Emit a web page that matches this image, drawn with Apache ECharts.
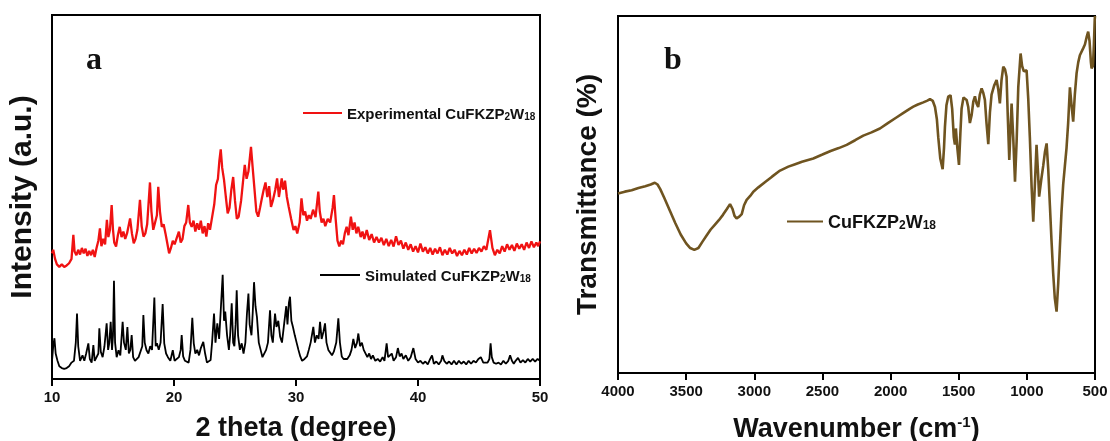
<!DOCTYPE html>
<html>
<head>
<meta charset="utf-8">
<script src="https://cdn.jsdelivr.net/npm/echarts@6/dist/echarts.min.js"></script>
<style>
  html, body { margin: 0; padding: 0; background: #fff; }
  #chart { width: 1110px; height: 441px; }
</style>
</head>
<body>
<div id="chart"></div>
<script>
// XRD, panel a: [2 theta, intensity (a.u., 0-100 plot units)]
const experimental = [
    [10.0, 34.5], [10.1, 35.5], [10.25, 33], [10.4, 31.5], [10.6, 30.8], [10.8, 31.5], [11.0, 30.8],
    [11.2, 31.2], [11.4, 31.8], [11.6, 33], [11.75, 39.6], [11.85, 35], [12.0, 34], [12.15, 35.5],
    [12.3, 34.2], [12.45, 36], [12.6, 34.5], [12.75, 35.8], [12.9, 33.8], [13.05, 35.2], [13.2, 34],
    [13.35, 35.5], [13.5, 33.5], [13.65, 36], [13.8, 38], [13.93, 41.4], [14.05, 36.5], [14.2, 38.5],
    [14.35, 37], [14.5, 43.7], [14.62, 39], [14.75, 41], [14.89, 47.8], [15.0, 41], [15.1, 37.5],
    [15.25, 36.4], [15.4, 39.5], [15.55, 41.8], [15.7, 39], [15.85, 40.5], [16.0, 38.5], [16.15, 40],
    [16.4, 44.1], [16.55, 40], [16.7, 37.3], [16.85, 38.5], [17.0, 41], [17.21, 49.2], [17.35, 42],
    [17.5, 39.1], [17.65, 40], [17.8, 42.5], [18.03, 54], [18.15, 46], [18.3, 41], [18.45, 43],
    [18.6, 45], [18.71, 52.8], [18.85, 46], [19.0, 41.8], [19.15, 42.5], [19.3, 40], [19.45, 37.3],
    [19.6, 34.5], [19.75, 36], [19.9, 38], [20.05, 37], [20.2, 38.5], [20.4, 40.5], [20.55, 37.5],
    [20.7, 38.5], [20.85, 42], [21.0, 43], [21.17, 47.8], [21.3, 43], [21.45, 41.8], [21.6, 43.5],
    [21.75, 40.5], [21.9, 42.8], [22.05, 41], [22.2, 43.5], [22.35, 40], [22.5, 42], [22.65, 39.1],
    [22.8, 42.8], [22.95, 41], [23.1, 44], [23.3, 48], [23.45, 53.3], [23.6, 55], [23.72, 60],
    [23.83, 63.1], [23.95, 58], [24.1, 54.7], [24.25, 50], [24.4, 45.5], [24.55, 47], [24.7, 52],
    [24.85, 55.5], [25.0, 49], [25.15, 44], [25.3, 44.6], [25.5, 49], [25.65, 54], [25.8, 58.8],
    [25.95, 55], [26.1, 57], [26.31, 63.8], [26.45, 58], [26.6, 52], [26.75, 46], [26.9, 44.6],
    [27.05, 47], [27.2, 49.6], [27.35, 52], [27.5, 54], [27.65, 50], [27.8, 53], [27.95, 47.3],
    [28.1, 49], [28.3, 52], [28.45, 55.1], [28.6, 50], [28.83, 55.1], [28.95, 52], [29.1, 54.5],
    [29.25, 50], [29.4, 47.3], [29.6, 44], [29.8, 40.9], [29.95, 42], [30.1, 40], [30.3, 43],
    [30.45, 49.6], [30.6, 45], [30.75, 46], [30.9, 43.5], [31.05, 45], [31.2, 44], [31.4, 46.5],
    [31.6, 44.5], [31.83, 51.5], [31.95, 46], [32.1, 43], [32.25, 44], [32.4, 42], [32.6, 44],
    [32.8, 43], [33.0, 47], [33.11, 50.5], [33.25, 44], [33.4, 38], [33.55, 36.4], [33.7, 38],
    [33.85, 37], [34.0, 40], [34.15, 41.8], [34.3, 39.5], [34.5, 44.6], [34.65, 41], [34.8, 43],
    [34.95, 40], [35.1, 41.8], [35.3, 39], [35.45, 40.5], [35.6, 38.5], [35.8, 40.9], [36.0, 38.2],
    [36.2, 39.8], [36.4, 37.5], [36.6, 39], [36.8, 37.5], [37.0, 38.8], [37.2, 36.8], [37.4, 38.5],
    [37.6, 36.5], [37.8, 38.2], [38.0, 36.4], [38.2, 39.2], [38.4, 36.8], [38.6, 38], [38.8, 35.8],
    [39.0, 37.5], [39.2, 35.5], [39.4, 37], [39.6, 35], [39.8, 36.5], [40.0, 34.8], [40.2, 37.2],
    [40.4, 35], [40.6, 36.2], [40.8, 34.5], [41.0, 36], [41.2, 34.2], [41.4, 35.8], [41.6, 34.5],
    [41.8, 36.2], [42.0, 34], [42.2, 35.5], [42.4, 34.2], [42.6, 36], [42.8, 34.5], [43.0, 35.5],
    [43.2, 33.8], [43.4, 35.2], [43.6, 34], [43.8, 35.5], [44.0, 34.2], [44.2, 36], [44.4, 34.5],
    [44.6, 35.8], [44.8, 34.6], [45.0, 36], [45.2, 35], [45.4, 36.5], [45.6, 35.5], [45.9, 40.9],
    [46.1, 36], [46.3, 34], [46.5, 35.5], [46.7, 34.5], [46.9, 36.5], [47.1, 35], [47.3, 37],
    [47.5, 35.5], [47.7, 36.8], [47.9, 35.2], [48.1, 37.2], [48.3, 35.8], [48.5, 37], [48.7, 35.5],
    [48.9, 37.5], [49.1, 36], [49.3, 37.8], [49.5, 36.2], [49.7, 37.5], [49.85, 36.5], [50.0, 37.8]
];

const simulated = [
    [10.0, 5], [10.1, 9], [10.2, 11.2], [10.3, 7], [10.45, 5], [10.6, 3.5], [10.8, 3], [11.0, 2.8],
    [11.2, 3], [11.4, 3.5], [11.6, 4.5], [11.8, 5], [11.95, 10], [12.05, 18], [12.15, 9], [12.3, 5],
    [12.5, 6.5], [12.65, 5], [12.8, 7], [12.98, 9.8], [13.1, 5.5], [13.25, 4.5], [13.39, 9.3],
    [13.5, 5], [13.65, 5.5], [13.8, 7], [13.88, 13.9], [14.0, 7.5], [14.15, 6], [14.3, 9],
    [14.48, 15.3], [14.6, 8], [14.7, 10], [14.81, 15.7], [14.92, 8], [15.0, 12], [15.08, 27],
    [15.17, 10], [15.3, 6], [15.45, 7.9], [15.6, 6.5], [15.79, 15.7], [15.9, 10], [16.05, 8],
    [16.18, 14.3], [16.3, 7], [16.42, 8], [16.53, 12.1], [16.65, 6], [16.8, 5], [16.95, 4.5],
    [17.1, 6], [17.25, 5.5], [17.4, 9], [17.49, 17.6], [17.6, 10], [17.75, 7.9], [17.9, 7],
    [18.05, 9], [18.2, 8], [18.39, 22.4], [18.5, 9], [18.6, 9.8], [18.75, 8], [18.9, 10],
    [19.07, 20.6], [19.2, 9.8], [19.35, 7], [19.5, 6], [19.7, 5], [19.9, 7.9], [20.05, 5],
    [20.2, 4.5], [20.4, 6], [20.55, 8], [20.63, 12.1], [20.75, 6.2], [20.9, 5], [21.05, 5.5],
    [21.2, 4.5], [21.35, 8], [21.5, 16.8], [21.62, 9.8], [21.75, 7], [21.9, 8], [22.05, 6.5],
    [22.2, 8.5], [22.4, 10.2], [22.55, 7], [22.7, 4.5], [22.85, 4], [23.0, 5.2], [23.12, 10],
    [23.28, 18], [23.4, 10], [23.55, 15.3], [23.7, 11], [23.85, 20], [23.99, 28.6], [24.1, 16],
    [24.2, 18.5], [24.35, 12], [24.5, 8], [24.6, 12], [24.73, 20.8], [24.85, 10], [24.95, 9],
    [25.05, 15], [25.14, 24.4], [25.25, 12], [25.4, 8], [25.55, 9.8], [25.7, 7], [25.85, 10],
    [25.98, 18], [26.1, 23.5], [26.2, 15], [26.35, 12], [26.45, 18], [26.56, 26.6], [26.68, 20],
    [26.8, 17], [26.95, 10], [27.1, 8], [27.25, 6], [27.4, 5.5], [27.55, 8], [27.7, 10],
    [27.87, 18.9], [27.98, 12], [28.1, 10], [28.28, 18], [28.4, 14.3], [28.55, 16], [28.7, 11.6],
    [28.85, 10], [29.0, 14.3], [29.2, 20], [29.3, 15], [29.42, 21], [29.51, 22.6], [29.62, 16],
    [29.75, 14.3], [29.9, 12], [30.05, 10], [30.2, 8], [30.35, 6.2], [30.5, 5], [30.7, 5.5],
    [30.9, 6.2], [31.05, 8], [31.2, 10], [31.42, 14.3], [31.55, 10], [31.7, 12], [31.85, 11],
    [31.97, 15.7], [32.1, 11], [32.25, 13], [32.38, 15.3], [32.5, 10], [32.65, 8], [32.8, 7.9],
    [32.95, 6.5], [33.1, 7.5], [33.3, 10], [33.47, 16.7], [33.6, 10], [33.75, 6.2], [33.9, 5.5],
    [34.05, 5], [34.2, 5.5], [34.4, 6.5], [34.55, 8], [34.7, 11], [34.85, 8.5], [35.0, 10],
    [35.11, 12.5], [35.25, 9], [35.4, 10], [35.55, 8], [35.7, 7.9], [35.85, 6], [36.0, 7],
    [36.15, 5.5], [36.3, 6.5], [36.5, 5], [36.7, 5.5], [36.9, 4.8], [37.1, 6], [37.25, 5],
    [37.43, 9.8], [37.55, 6], [37.7, 5.5], [37.85, 7], [38.0, 5], [38.2, 6], [38.35, 8.5],
    [38.5, 6.2], [38.65, 7], [38.8, 5.5], [39.0, 6.5], [39.2, 5], [39.4, 6], [39.62, 8.5],
    [39.8, 5.5], [40.0, 4.5], [40.2, 5], [40.4, 4.2], [40.6, 4.8], [40.8, 4], [41.0, 5.5],
    [41.15, 6.5], [41.3, 4.2], [41.5, 4.8], [41.7, 4], [41.9, 5], [42.0, 6.5], [42.15, 5],
    [42.35, 4.2], [42.55, 4.8], [42.75, 4], [42.95, 5], [43.15, 4], [43.35, 5], [43.55, 4.2],
    [43.75, 4.8], [43.95, 4], [44.15, 5], [44.35, 4.2], [44.55, 5], [44.75, 4.5], [44.95, 5.5],
    [45.15, 6], [45.35, 4.5], [45.5, 5], [45.7, 4.5], [45.85, 5.5], [45.95, 9.8], [46.05, 6],
    [46.2, 4.5], [46.4, 4.2], [46.6, 4.5], [46.8, 4], [47.0, 5], [47.2, 4.2], [47.4, 5],
    [47.55, 6.5], [47.7, 5], [47.85, 4.2], [48.0, 5], [48.2, 5.8], [48.4, 4.5], [48.6, 5.2],
    [48.8, 4.5], [49.0, 5.5], [49.2, 4.8], [49.4, 5.5], [49.6, 4.8], [49.8, 5.5], [50.0, 5]
];

// FT-IR, panel b: [wavenumber, transmittance (0-100 plot units)]
const ftir = [
    [4000, 50.3], [3950, 50.8], [3900, 51.2], [3850, 51.8], [3800, 52.3], [3760, 52.8], [3730, 53.3],
    [3710, 52.8], [3690, 51.5], [3660, 49], [3620, 45.5], [3580, 42], [3540, 38.8], [3500, 36.3],
    [3470, 35], [3440, 34.5], [3410, 35], [3380, 36.8], [3350, 38.5], [3320, 40.2], [3290, 41.5],
    [3260, 42.8], [3230, 44.3], [3200, 46], [3178, 47.3], [3160, 46], [3145, 44], [3130, 43.3],
    [3110, 43.8], [3092, 44.5], [3075, 47], [3056, 48.5], [3030, 49.6], [3007, 50.8], [2970, 52],
    [2920, 53.5], [2870, 55], [2811, 56.7], [2750, 57.8], [2700, 58.5], [2650, 59.2], [2567, 60.1],
    [2500, 61.2], [2440, 62.2], [2380, 63], [2322, 63.9], [2260, 65.2], [2200, 66.5], [2140, 67.4],
    [2078, 68.5], [2020, 70], [1960, 71.5], [1900, 73], [1860, 74], [1833, 74.6], [1800, 75.2],
    [1760, 75.8], [1730, 76.3], [1711, 76.7], [1690, 76.2], [1674, 74.5], [1660, 71], [1650, 66],
    [1635, 60], [1618, 57.1], [1608, 63], [1601, 69], [1590, 75], [1577, 77.4], [1560, 77.8],
    [1548, 74], [1536, 66], [1528, 64], [1521, 68.5], [1510, 63], [1498, 58.3], [1488, 67],
    [1479, 74], [1465, 77.2], [1455, 77.5], [1442, 76.5], [1430, 74.5], [1418, 70], [1405, 72.3],
    [1393, 76], [1381, 77.5], [1369, 75.5], [1357, 74.5], [1345, 78], [1332, 79.7], [1320, 78.5],
    [1308, 76.5], [1296, 70], [1283, 64.1], [1271, 73], [1259, 78], [1240, 80.5], [1222, 82.1],
    [1210, 79.5], [1198, 75.5], [1186, 82], [1173, 85.8], [1160, 85], [1149, 83], [1140, 72],
    [1129, 59.7], [1120, 68], [1112, 75.5], [1100, 66], [1087, 53.6], [1075, 65], [1063, 80],
    [1046, 89.5], [1035, 86], [1022, 84.5], [1010, 85], [1002, 84.8], [990, 77], [978, 66],
    [965, 52], [953, 42.4], [942, 52], [929, 63.9], [918, 56], [910, 49.4], [895, 54], [880, 58],
    [867, 62], [855, 64.3], [843, 57], [831, 47], [819, 37], [807, 28], [795, 21], [782, 17.2],
    [770, 25], [758, 35], [746, 45], [733, 53], [721, 58], [709, 63], [697, 70], [684, 80],
    [672, 75], [660, 70.4], [648, 78], [635, 84], [623, 87], [611, 89], [598, 89.5], [586, 91],
    [574, 92], [562, 94], [550, 95.6], [540, 93], [530, 87], [525, 85.3], [515, 86], [508, 92],
    [502, 99], [500, 100]
];

const thetaRange = [10, 50];
const waveRange = [500, 4000];

const chart = echarts.init(document.getElementById('chart'));

const sans = 'Liberation Sans, Arial, sans-serif';
const black = '#000';

function legendRich(size, sub) {
    return {
        n: { fontSize: size, fontWeight: 'bold', fontFamily: sans, color: '#111', lineHeight: size + 3, verticalAlign: 'bottom' },
        s: { fontSize: sub, fontWeight: 'bold', fontFamily: sans, color: '#111', lineHeight: sub + 1, verticalAlign: 'bottom' }
    };
}

function legendName(prefix) {
    return '{n|' + prefix + 'CuFKZP}{s|2}{n|W}{s|18}';
}

function xAxisBase(gridIndex) {
    return {
        gridIndex: gridIndex,
        type: 'value',
        axisLine: { show: true, onZero: false, lineStyle: { color: black, width: 2 } },
        axisTick: { show: true, inside: false, length: 7, lineStyle: { color: black, width: 2 } },
        axisLabel: { color: '#111', fontSize: 15, fontWeight: 'bold', fontFamily: sans, margin: 11, formatter: v => String(v) },
        splitLine: { show: false },
        nameLocation: 'middle',
        nameTextStyle: { color: '#111', fontSize: 27, fontWeight: 'bold', fontFamily: sans }
    };
}

function yAxisBase(gridIndex, name, gap, size) {
    return {
        gridIndex: gridIndex,
        type: 'value',
        min: 0,
        max: 100,
        axisLine: { show: true, lineStyle: { color: black, width: 2 } },
        axisTick: { show: false },
        axisLabel: { show: false },
        splitLine: { show: false },
        name: name,
        nameLocation: 'middle',
        nameGap: gap,
        nameTextStyle: { color: '#111', fontSize: size, fontWeight: 'bold', fontFamily: sans }
    };
}

let option = {
    animation: false,
    backgroundColor: '#fff',
    grid: [
        { left: 52, top: 15, width: 488, height: 364, show: true, borderColor: black, borderWidth: 2, outerBoundsMode: 'none' },
        { left: 618, top: 16, width: 477, height: 357, show: true, borderColor: black, borderWidth: 2, outerBoundsMode: 'none' }
    ],
    xAxis: [
        Object.assign(xAxisBase(0), {
            min: thetaRange[0], max: thetaRange[1], interval: 10,
            name: '2 theta (degree)', nameGap: 36
        }),
        Object.assign(xAxisBase(1), {
            min: waveRange[0], max: waveRange[1], interval: 500, inverse: true,
            name: 'Wavenumber (cm{sup|-1})', nameGap: 42
        })
    ],
    yAxis: [
        yAxisBase(0, 'Intensity (a.u.)', 14, 30),
        yAxisBase(1, 'Transmittance (%)', 16, 28)
    ],
    legend: [
        {
            data: ['Experimental CuFKZP2W18'], left: 298, top: 102, icon: 'rect', itemWidth: 39, itemHeight: 2,
            formatter: () => legendName('Experimental '), textStyle: { rich: legendRich(15, 10) }
        },
        {
            data: ['Simulated CuFKZP2W18'], left: 315, top: 264, icon: 'rect', itemWidth: 40, itemHeight: 2,
            formatter: () => legendName('Simulated '), textStyle: { rich: legendRich(15, 10) }
        },
        {
            data: ['CuFKZP2W18'], left: 782, top: 209, icon: 'rect', itemWidth: 36, itemHeight: 2,
            formatter: () => legendName(''), textStyle: { rich: legendRich(18, 12) }
        }
    ],
    graphic: [
        { type: 'text', style: { x: 94, y: 61, text: 'a', align: 'center', verticalAlign: 'middle', fontSize: 32, fontWeight: 'bold', fontFamily: 'Liberation Serif, Times New Roman, serif', fill: '#111' } },
        { type: 'text', style: { x: 673, y: 61, text: 'b', align: 'center', verticalAlign: 'middle', fontSize: 32, fontWeight: 'bold', fontFamily: 'Liberation Serif, Times New Roman, serif', fill: '#111' } }
    ],
    series: [
        {
            name: 'Experimental CuFKZP2W18', type: 'line', xAxisIndex: 0, yAxisIndex: 0,
            data: experimental, showSymbol: false, color: '#f01212',
            lineStyle: { width: 2.3, color: '#f01212' }
        },
        {
            name: 'Simulated CuFKZP2W18', type: 'line', xAxisIndex: 0, yAxisIndex: 0,
            data: simulated, showSymbol: false, color: '#000',
            lineStyle: { width: 1.8, color: '#000' }
        },
        {
            name: 'CuFKZP2W18', type: 'line', xAxisIndex: 1, yAxisIndex: 1,
            data: ftir, showSymbol: false, color: '#6f5420',
            lineStyle: { width: 2.6, color: '#6f5420' }
        }
    ]
};

option.xAxis[1].nameTextStyle.rich = {
    sup: { fontSize: 15, fontWeight: 'bold', fontFamily: sans, color: '#111', verticalAlign: 'top', lineHeight: 30 }
};

chart.setOption(option);
</script>
</body>
</html>
